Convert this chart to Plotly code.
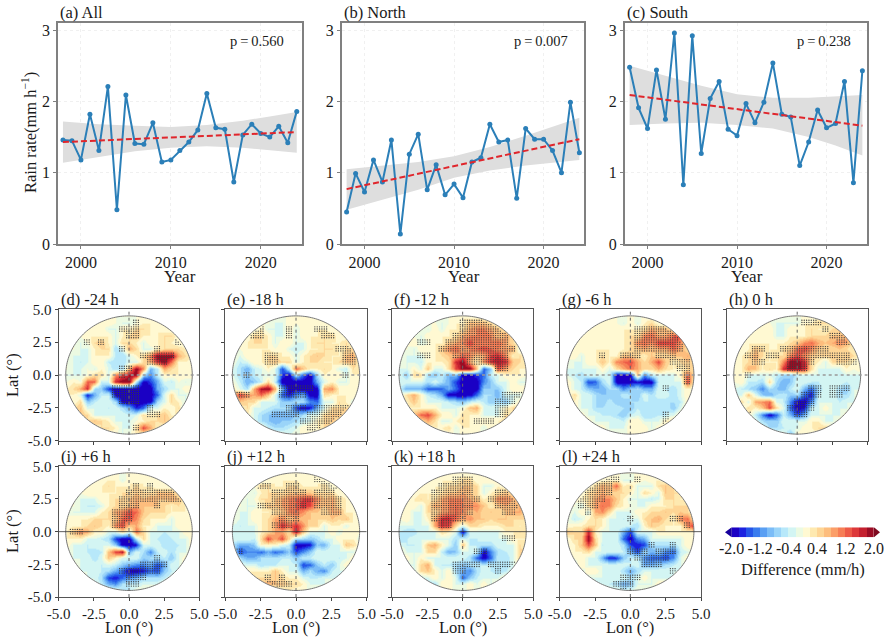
import numpy as np
import plotly.graph_objects as go

W, H = 890, 643
FONT = "Liberation Serif"
TXT = "#1a1a1a"

years = list(range(1998, 2025))
all_rate = [1.46,1.45,1.18,1.82,1.31,2.21,0.48,2.09,1.41,1.40,1.70,1.15,1.18,1.31,1.43,1.60,2.11,1.63,1.61,0.87,1.53,1.68,1.55,1.50,1.65,1.42,1.86]
north_rate = [0.45,0.99,0.73,1.18,0.87,1.46,0.14,1.26,1.54,0.76,1.11,0.69,0.84,0.65,1.15,1.21,1.68,1.43,1.46,0.64,1.62,1.47,1.47,1.31,1.00,1.99,1.28]
south_rate = [2.48,1.91,1.62,2.44,1.75,2.96,0.83,2.92,1.27,2.04,2.28,1.61,1.52,1.97,1.70,1.99,2.54,1.82,1.78,1.10,1.43,1.88,1.63,1.69,2.28,0.86,2.43]
trend_years = [1998, 2024]
all_trend = [1.43, 1.57]
north_trend = [0.77, 1.47]
south_trend = [2.09, 1.66]
ci_years = [1998, 2002, 2006, 2010, 2014, 2018, 2021, 2024]
all_hi = [1.72,1.68,1.66,1.64,1.67,1.73,1.79,1.85]
all_lo = [1.14,1.22,1.30,1.35,1.37,1.35,1.31,1.28]
north_hi = [1.05,1.10,1.15,1.23,1.36,1.52,1.65,1.77]
north_lo = [0.48,0.62,0.76,0.93,1.03,1.10,1.14,1.18]
south_hi = [2.50,2.36,2.22,2.10,2.05,2.05,2.07,2.09]
south_lo = [1.67,1.69,1.70,1.67,1.62,1.50,1.38,1.24]
top_titles = ["(a) All", "(b) North", "(c) South"]
p_labels = ["p\u2009=\u20090.560", "p\u2009=\u20090.007", "p\u2009=\u20090.238"]

# '.' = 0, a..j = +0.2..+2.0, A..J = -0.2..-2.0 mm/h
diff_d = ["...................","......a.AA.aa......","....aaAAaabbaa.....","...aaaaAabcaaabb...","..A.bcaAbbaAaaba...","..AAabbCAdbAAabbba.",".AAAaaaBCAabejjjdba",".ABAaaBCCAAbdhjfaa.",".AA.AaACCdjeEBdbaaa","AAA.bbAegijCFBaaaa.",".a.ffBAhjjCJHEAB.A.","abdhCDHJJJJJJECAAa.","aaAIEBBJJJJJJGAbAA.","..bDBAACJJJJJCAbaAA",".bcAAABACEIGAAa.bCA","..cbAAAAABAbabcaaA.","..abcbaAAA.abbcb.A.","....abbaAAbgda.a...","........A.a........"]
diff_e = ["...................","......AAa.a........","....aAAAaAaaaa.....","...bbaAAaAaaabb....","..abbaAaaAAabbaab..","..aaaa.aABAaabbabb.",".AaaabbaaAabcbaacd.",".BAaabcbbAabbaabcca","ACEBAaAHBfcaabaABba","ACDBAAAHJCGJCa.aAaa",".BEDBbBJJJJJEAaAAa.","aACdijdEJJJJJdeaa..","dgedfcAGIFEJJbaaaaa",".cbbAAADDCCFGAAbaA.",".abAABCCCHJIEAbbbb.","..aACDEEEDCAAbccbb.","..aACDEDDCBAabcba..","....aBCCBAaaabba...","........A.........."]
diff_f = [".........a.........","......A.aacccb.....","....AaAaabdeedcb...","...Aa.aabdeefecdb..","..aA.aacdegeeefdba.","..AaaacefdefgfeddA.",".AAAaabcdfecdgheab.",".AABaaabhjdaehihcba","AAaAcAAbgjjcGDgdbaa","ADbbCDBEDJJHGBAaaa.","AAAACACEHJJJFDAAaAA","BEEEGGGEGJJJDDDAaaa","AbdaBCEJJJJGCCEAAAa","aacaAAABCDBABDCDAaa",".aaaaaAAA.cdAAAabba","..cfgdaaAbaaAAAbbb.","..abdbAAaba.aaabb..","....aaabAaaaAaa....","..................."]
diff_g = ["...................","......a.AaAab......","....aaaaaaabdccb...","...aaaaaabbefddfgb.","..aaaa.aabefegggeb.","..aaaaa.abcdcddfdb.",".aAaabaaccbacbbccdb",".AAaacaefgdbdgcabcb","AAAAAaAbdfdbbdbaabb","ABCAAABIJJcFBAAAafb","aABHGCAJJJIJJBAAAga","aABDEECCFDCEEABCAa.",".bAACDDDBCDACAACAaa",".aAACDBDDCCBBCCCBaa",".aAACCBBCDBCCCBDAaa","..aAABBCDBACCBBAab.","..aaAAAABaaAAAaba..","....aaAAAaaaAa.....","..................."]
diff_h = ["...................","......AAAAaabb.....","....aaAAaaabaabc...","...aaaAAaaabbbccd..","..aaaaaabcefdcdeda.","..acbaabcfgecbbcba.",".abdbabbegecbbcbcb.",".abcaaaejjhbaAbbba.",".adcabahjjhbAAAAa.a",".aAAAABCDBAAAAABAAA",".aBBCbCEDAABBAAABAA","ABCDFCDEBAEGCAACDAA","AAcADECBDCGIBAACCAa","AbAdefABFJJFAAABAAa","AAbacgbAGJIBAaAAAa.",".baBFJGBEHEAAAAAaa.","..aACDDAAAAaaAAaa..","...AACCBAAaabbaa...","........Ea........."]
diff_i = ["...................","......aaAa.aa......","....aabaaabaa......","...aaaaabbcbbcccb..","..AAAaabbcdcdccdca.","..ABBAabbcdcccbaba.",".AAAAabdegfcbbbaaa.",".aaabbbcfgebaaaAaa.",".aabcbaegcdaaAAAaa.","acedaaAAbAfbAABAAaa","aaaAABCHJJBbABCBAAa","aAABAAADJJIAAACCBAa",".AABCBcgiEACFBACAA.",".AAACAcaAAADCCBDAaa",".aAAABABDEFFEHEAAa.","..AAABCEGJJIGHDBAA.","...AACHIGFECCCBAA..","....ABEFCBBAAAAa...","........BB........."]
diff_j = ["...................","......aaaa.aa......","....bbaabbaaab.....","...Aabbbccccbbb....","..A.bbcdefggecdba..","..AAaccdefhgdcdbaa.",".AAaaabcefeccbddaa.",".AAaabdecdccbbcbca.","ABAAabdhfhebbAaaAa.","AAAAabddbicAAAaAaa.","AAABbgdgbCCDCAAaaaA","CEEDaaaABJJIDEAAcb.","BHFFGEGFDHFDAAAAAA.",".CEECCCBBDBBAAABAa.",".AAACBBAABHGDBDAaa.","..aaaacaAAECEFBAAA.","..bbbbcbaaABBAAAA..","....cdccbbaAAA.....","........a.........."]
diff_k = ["...................","......aaabb.aa.....","....aaabbccbAAa....","...aaabccdcbAabcb..","..ababdeeedcabeedb.","..aAbddefeeecacdcda",".aAAbbdefecdbcbcddb",".aAAadhhfdeccbccbbb","AAAAAdhgbAbbaaabbab","BCCAAAbaAJAAAAAaaba","CBAAAAAACABBAAAAaaa","ABBAcdaADcBBCCAAAba","aAAAbbBEDAABJFCBAbc",".aAaAAAAAACGJGBCAbb",".AAbdABBCDCBBBCCAaa","..AbcaAaCEFCABCBAa.","..BBAaAaAGDBAAAa...","....CCaaAAaAaAaa...","..................."]
diff_l = ["...................","......aaAAa.aa.....","....bdcfabAAAbcb...","...bcdcbbaAbaAcbb..","..abdeecaAAABAbbaa.","..Abdfeba.AAaaabbb.",".AaAdebAAAaabbcbcba",".BAabaAABAAbcdbaefa",".aabbaAAABCacbaaaeh","cbbhaAAAEHAAAaaaaaa",".bbjbAAAGJFEAAAAAaa",".acgcBAACHIHCCCCAa.",".aabAAAABEHCEDFGBAa","..aAAEIHDBBFGGHFAa.",".AaAAAAAABAEEDCBAa.","..AaaAAACECAAAAAA..","..aAAAAAACAaAAAAa..","....AABCEDAAAaaa...","........AA........."]

sig_d = ["","..........#","........###",".........##","...#.#..........#","........#....#","...........#####","............###","........##","........#","",".......####",".......####","........###","............#","............##","","..........#",""]
sig_e = ["","","...##...#...##","...##...#....##","","...............###",".....##.........##",".....##.........##","","..#.............#","",".......#####",".##....####","","........###.#####","......####.#####","..........#####","...........##",""]
sig_f = ["",".........######",".........######","........########","...##..#########","......###########","...##...########","..........######","..............##","","","","...............###","..............###","..............##","..............##","...........###","",""]
sig_g = ["","","..........######","..........#######","..........########","..........#######",".....#..###..###","...............###","................##",".................#",".................#","..............#","","","","..............#","..............#","",""]
sig_h = ["","..........###",".............#","..............###","...............##","...##..#######","..##.##.#########","...##...####...###","........###","..#","","...........##.###","..........###.##",".........###","........####",".##......##","","",""]
sig_i = ["","","..........#.#",".........#######","........#########","........###..#",".......###",".......###",".......##",".##","","","",".............#","...........####","........######",".........###",".........##",""]
sig_j = ["","............##","....##..##...###","......#####.###","......##########","....#######.####","......####...###",".......###","......###","","","",".#","","","",".....#.#",".....####",""]
sig_k = ["","........###","......#####",".....######...##",".....#######.####",".....######...####",".....######....##",".....#####","......##","","...............##","","...........##","...............","........####.####","........##....#","","",""]
sig_l = ["",".....###..#","...####","...####","..####","..###","...#",".........#.....##",".................#","","","............#..#",".........###.###","..........#####","...........###","...............#","........###",".......###","........#"]

map_titles = ["(d) -24 h","(e) -18 h","(f) -12 h","(g) -6 h","(h) 0 h","(i) +6 h","(j) +12 h","(k) +18 h","(l) +24 h"]
map_fields = [diff_d, diff_e, diff_f, diff_g, diff_h, diff_i, diff_j, diff_k, diff_l]
map_sig = [sig_d, sig_e, sig_f, sig_g, sig_h, sig_i, sig_j, sig_k, sig_l]
grid_lon = [-4.5 + 0.5 * i for i in range(19)]
grid_lat = [4.5 - 0.5 * i for i in range(19)]
map_ticks = [-5.0, -2.5, 0.0, 2.5, 5.0]
map_ticktext = ["-5.0", "-2.5", "0.0", "2.5", "5.0"]
cbar_ticks = [-2.0, -1.2, -0.4, 0.4, 1.2, 2.0]
cbar_ticktext = ["-2.0", "-1.2", "-0.4", "0.4", "1.2", "2.0"]
cbar_colors = ["#1a00c4","#1c22e0","#2555e8","#3a7cee","#5a9ff3","#7bbcf7","#9ad4f9","#b7e8fa","#d3f5f3","#ecfae2",
               "#fff9d2","#fee9b0","#fed595","#fdbd7d","#fb9e68","#f67e56","#ed5a47","#dd393a","#c4202f","#9a0c24"]

def decode(ch):
    if ch == ".": return 0.0
    if ch.islower(): return (ord(ch) - 96) * 0.2
    return -(ord(ch) - 64) * 0.2

stops = []
for i, c in enumerate(cbar_colors):
    stops += [[i / 20, c], [(i + 1) / 20, c]]

fig = go.Figure()
layout = dict(template="none", width=W, height=H, margin=dict(l=0, r=0, t=0, b=0, pad=0), autosize=False,
              paper_bgcolor="white", plot_bgcolor="white", showlegend=False,
              font=dict(family=FONT, color=TXT, size=15))
ann, shapes = [], []

def text(x, y, s, size, anchor="center", angle=0):
    ann.append(dict(xref="paper", yref="paper", x=x / W, y=1 - y / H, text=s, showarrow=False,
                    xanchor=anchor, yanchor="middle", textangle=angle, font=dict(size=size, family=FONT, color=TXT)))

def axes(n, x0, x1, y0, y1, xa, ya):
    s = "" if n == 1 else str(n)
    layout["xaxis" + s] = dict(domain=[x0 / W, x1 / W], anchor="y" + s, automargin=False, tickangle=0, **xa)
    layout["yaxis" + s] = dict(domain=[1 - y1 / H, 1 - y0 / H], anchor="x" + s, automargin=False, tickangle=0, **ya)
    return ("x" + s, "y" + s)

# top panels
top_x = [(58, 301.7), (341.7, 584.3), (624.7, 867.3)]
rates = [all_rate, north_rate, south_rate]
trends = [all_trend, north_trend, south_trend]
his = [all_hi, north_hi, south_hi]
los = [all_lo, north_lo, south_lo]
for k in range(3):
    frame = dict(showline=True, mirror=True, linecolor="#808080", linewidth=1.5, ticks="outside", ticklen=3,
                 tickcolor="#808080", showgrid=True, gridcolor="#f0f0f0", griddash="dot", gridwidth=1, zeroline=False,
                 tickfont=dict(size=16, family=FONT, color=TXT))
    xr, yr = axes(k + 1, top_x[k][0], top_x[k][1], 23, 244,
                  dict(range=[1997.45, 2024.55], tickvals=[2000, 2010, 2020], **frame),
                  dict(range=[0, 3.1], tickvals=[0, 1, 2, 3], **frame))
    fig.add_trace(go.Scatter(x=ci_years + ci_years[::-1], y=his[k] + los[k][::-1], mode="lines", fill="toself",
                             fillcolor="#dedede", line=dict(width=0), xaxis=xr, yaxis=yr, hoverinfo="skip"))
    fig.add_trace(go.Scatter(x=years, y=rates[k], mode="lines+markers", line=dict(color="#2b7fb8", width=2),
                             marker=dict(size=5, color="#2b7fb8"), xaxis=xr, yaxis=yr))
    fig.add_trace(go.Scatter(x=trend_years, y=trends[k], mode="lines", line=dict(color="#e0262c", width=2, dash="6px,3px"),
                             xaxis=xr, yaxis=yr))
    text(top_x[k][0], 13, top_titles[k], 16.5, "left")
    text(top_x[k][0] + 199, 41, p_labels[k], 14.5)
    text((top_x[k][0] + top_x[k][1]) / 2 + 0.5, 276, "Year", 17)
text(30, 133, "Rain rate(mm h<sup>\u22121</sup>)", 16.5, angle=-90)

# maps
map_x = [(58.7, 199.3), (225.3, 366.7), (392, 533.3), (559.7, 701), (726.7, 867.7),
         (58.7, 199.3), (225.3, 366.7), (392, 533.3), (559.7, 701)]
map_y = [(309.3, 440.7)] * 5 + [(466.3, 597)] * 4
theta = np.linspace(0, 2 * np.pi, 181)
ring = " ".join(("M" if i == 0 else "L") + f"{4.5*np.cos(t):.3f},{4.5*np.sin(t):.3f}" for i, t in enumerate(theta)) + " Z"
mask_path = "M-4.95,-4.95 L4.95,-4.95 L4.95,4.95 L-4.95,4.95 Z " + ring
dot_offsets = [-1 / 6, 0.0, 1 / 6]
for k in range(9):
    n = k + 4
    row2 = k >= 5
    show_x = row2
    show_y = k in (0, 5)
    base = dict(range=[-5, 5], tickvals=map_ticks, ticktext=map_ticktext, ticks="outside", ticklen=3, tickcolor="#444",
                showline=True, mirror=True, linecolor="#555", linewidth=1.2, showgrid=False, zeroline=False,
                tickfont=dict(size=15, family=FONT, color=TXT))
    xr, yr = axes(n, map_x[k][0], map_x[k][1], map_y[k][0], map_y[k][1],
                  dict(showticklabels=show_x, **base), dict(showticklabels=show_y, **base))
    z = [[decode(c) for c in row.ljust(19, ".")[:19]] for row in map_fields[k]]
    fig.add_trace(go.Heatmap(x=grid_lon, y=grid_lat, z=z, zmin=-2, zmax=2, colorscale=stops, zsmooth="best",
                             showscale=False, xaxis=xr, yaxis=yr, hoverinfo="skip"))
    dx, dy = [], []
    for r, row in enumerate(map_sig[k]):
        for c, ch in enumerate(row):
            if ch == "#":
                for oy in dot_offsets:
                    for ox in dot_offsets:
                        px, py = grid_lon[c] + ox, grid_lat[r] + oy
                        if px * px + py * py < 4.4 ** 2:
                            dx.append(px); dy.append(py)
    fig.add_trace(go.Scatter(x=dx, y=dy, mode="markers", marker=dict(size=1.3, color="#3a3a3a"), xaxis=xr, yaxis=yr, hoverinfo="skip"))
    shapes.append(dict(type="path", path=mask_path, xref=xr, yref=yr, fillcolor="white", line=dict(width=0), layer="above"))
    shapes.append(dict(type="path", path=ring, xref=xr, yref=yr, line=dict(color="#777", width=1), layer="above"))
    hcol, hw, hd = ("#333", 0.8, "solid") if row2 else ("#999", 1.3, "dot")
    shapes.append(dict(type="line", x0=-5, x1=5, y0=0, y1=0, xref=xr, yref=yr, line=dict(color=hcol, width=hw, dash=hd), layer="above"))
    shapes.append(dict(type="line", x0=0, x1=0, y0=-5, y1=5, xref=xr, yref=yr, line=dict(color="#666", width=1, dash="dot"), layer="above"))
    text(map_x[k][0], map_y[k][0] - 10, map_titles[k], 16.5, "left")
    if show_x:
        text((map_x[k][0] + map_x[k][1]) / 2, 627.5, "Lon (\u00b0)", 16.5)
text(12, 375, "Lat (\u00b0)", 16.5, angle=-90)
text(12, 531, "Lat (\u00b0)", 16.5, angle=-90)

# colour bar
edges = [-2 + 0.2 * i for i in range(21)]
mids = [(edges[i] + edges[i + 1]) / 2 for i in range(20)]
xr, yr = axes(13, 725, 880, 527.3, 537.3,
              dict(range=[-2.188, 2.169], tickvals=cbar_ticks, ticktext=cbar_ticktext, ticks="", showgrid=False, zeroline=False,
                   showline=False, tickfont=dict(size=16, family=FONT, color=TXT)),
              dict(range=[0, 1], showticklabels=False, ticks="", showgrid=False, zeroline=False, showline=False))
fig.add_trace(go.Heatmap(x=mids, y=[0.5], z=[mids], zmin=-2, zmax=2, colorscale=stops, showscale=False, xaxis=xr, yaxis=yr,
                         hoverinfo="skip"))
shapes.append(dict(type="path", path="M-2,0 L-2.188,0.5 L-2,1 Z", xref=xr, yref=yr, fillcolor="#16009c", line=dict(width=0)))
shapes.append(dict(type="path", path="M2,0 L2.169,0.5 L2,1 Z", xref=xr, yref=yr, fillcolor="#7d0a20", line=dict(width=0)))
text(802.5, 569, "Difference (mm/h)", 16.5)

layout["annotations"] = ann
layout["shapes"] = shapes
fig.update_layout(**layout)
fig.write_html("out.html", config=dict(displayModeBar=False), post_script="document.body.style.margin='0';")
